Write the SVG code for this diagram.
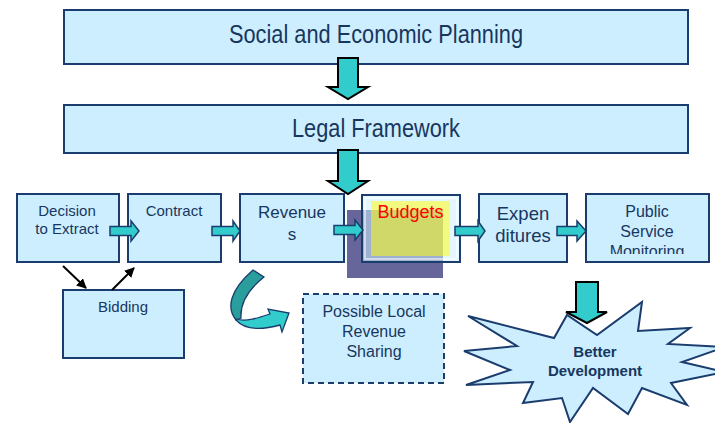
<svg xmlns="http://www.w3.org/2000/svg" width="715" height="423" viewBox="0 0 715 423">
<defs>
<style>
.box{fill:#cdeeff;stroke:#1a3d6e;stroke-width:2}
.t{font-family:"Liberation Sans",Arial,sans-serif;fill:#17375e;text-anchor:middle}
.big{fill:#33cccc;stroke:#000;stroke-width:2;stroke-linejoin:miter}
.sm{fill:#33cccc;stroke:#1a3d6e;stroke-width:1.5}
.blk{stroke:#000;stroke-width:2;fill:none}
</style>
<marker id="ah" viewBox="0 0 10 10" refX="9" refY="5" markerWidth="5" markerHeight="5" orient="auto" markerUnits="strokeWidth">
<path d="M0,0 L10,5 L0,10 Z" fill="#000"/>
</marker>
<clipPath id="clipPSM"><rect x="586" y="194" width="124" height="60"/></clipPath>
</defs>
<rect width="715" height="423" fill="#fff"/>

<g id="planning">
<rect class="box" x="64" y="10" width="624" height="54"/>
<text class="t" x="376" y="43" font-size="25" textLength="294" lengthAdjust="spacingAndGlyphs">Social and Economic Planning</text>
</g>
<g id="legal">
<rect class="box" x="64" y="105" width="624" height="48"/>
<text class="t" x="376" y="137" font-size="25" textLength="168" lengthAdjust="spacingAndGlyphs">Legal Framework</text>
</g>

<g id="decision">
<rect class="box" x="17" y="194" width="102" height="68"/>
<text class="t" x="67" y="216" font-size="15">Decision</text>
<text class="t" x="67" y="234" font-size="15">to Extract</text>
</g>
<g id="contract">
<rect class="box" x="128" y="194" width="93" height="68"/>
<text class="t" x="174" y="216" font-size="15">Contract</text>
</g>
<g id="revenues">
<rect class="box" x="240" y="194" width="104" height="68"/>
<text class="t" x="292" y="218" font-size="17">Revenue</text>
<text class="t" x="292" y="240" font-size="17">s</text>
</g>
<g id="budgets">
<rect x="347" y="210" width="96" height="68" fill="#66669a"/>
<rect x="362" y="195" width="98" height="67" fill="#cdeeff" fill-opacity="0.55" stroke="#1a3d6e" stroke-width="2"/>
<rect x="365" y="198" width="92" height="61" fill="none" stroke="#fff" stroke-opacity="0.7" stroke-width="1.5"/>
<rect x="371" y="201" width="79" height="55" fill="#ffff00" fill-opacity="0.5"/>
<text x="410.5" y="218" font-size="18" font-family="'Liberation Sans',Arial,sans-serif" fill="#ff0000" text-anchor="middle">Budgets</text>
</g>
<g id="expenditures">
<rect class="box" x="479" y="194" width="88" height="68"/>
<text class="t" x="523" y="220" font-size="18.5">Expen</text>
<text class="t" x="523" y="242" font-size="18.5">ditures</text>
</g>
<g id="monitoring">
<rect class="box" x="586" y="194" width="123" height="68"/>
<g clip-path="url(#clipPSM)">
<text class="t" x="647" y="217" font-size="16">Public</text>
<text class="t" x="647" y="237" font-size="16">Service</text>
<text class="t" x="647" y="257" font-size="16">Monitoring</text>
</g>
</g>
<g id="bidding">
<rect class="box" x="63" y="290" width="121" height="68"/>
<text class="t" x="123" y="312" font-size="15">Bidding</text>
</g>
<g id="sharing">
<rect x="303" y="294" width="141" height="89" fill="#cdeeff" stroke="#1a3d6e" stroke-width="2" stroke-dasharray="6,4"/>
<text class="t" x="374" y="317" font-size="16">Possible Local</text>
<text class="t" x="374" y="337" font-size="16">Revenue</text>
<text class="t" x="374" y="357" font-size="16">Sharing</text>
</g>
<g id="development">
<path d="M468,316 L554,338 L567,315 L597,335 L642,302 L638,331 L690,328 L668,344 L725,347 L682,362 L725,372 L671,383 L687,405 L642,388 L628,414 L593,388 L570,422 L562,398 L523,403 L533,382 L466,385 L510,370 L464,351 L517,346 Z" fill="#cdeeff" stroke="#1a3d6e" stroke-width="2" stroke-linejoin="miter"/>
<text class="t" x="595" y="357" font-size="15" font-weight="bold">Better</text>
<text class="t" x="595" y="376" font-size="15" font-weight="bold">Development</text>
</g>

<g id="connectors">
<path class="big" d="M338,58 H358 V87 H368 L348,99 L328,87 H338 Z"/>
<path class="big" d="M338,150 H358 V181 H368 L348,194 L328,181 H338 Z"/>
<path class="big" d="M576,282 H598 V312 H607 L587,323 L566,312 H576 Z"/>
<path class="sm" d="M110,226.5 H131 V221 L139,231 L131,241 V235.5 H110 Z"/>
<path class="sm" d="M212,226.5 H233 V221 L240,231 L233,241 V235.5 H212 Z"/>
<path class="sm" d="M334,225.5 H355 V220 L363,230 L355,240 V234.5 H334 Z"/>
<path class="sm" d="M455,226.5 H478 V221 L485,231 L478,241 V235.5 H455 Z"/>
<path class="sm" d="M557,226.5 H577 V221 L586,231 L577,241 V235.5 H557 Z"/>
<line class="blk" x1="63" y1="266" x2="86" y2="288" marker-end="url(#ah)"/>
<line class="blk" x1="112" y1="290" x2="134" y2="268" marker-end="url(#ah)"/>
<path d="M253,270 L264,277 C250,288 240,302 241,318 L236,320 C226,308 230,290 253,270 Z" fill="#2a9e9c" stroke="#1a3d6e" stroke-width="1.3"/>
<path d="M236,319 C246,322 258,318 270,314 L268,309 L289,313 L282,332 L280,325 C262,330 245,330 236,320 Z" fill="#33cccc" stroke="#1a3d6e" stroke-width="1.3"/>
</g>
</svg>
